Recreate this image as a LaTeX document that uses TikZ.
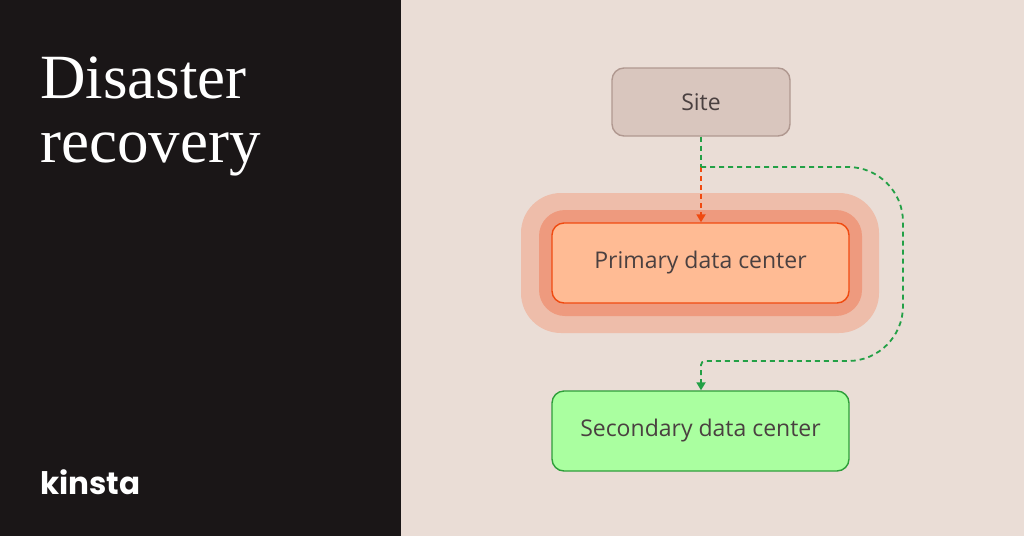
\documentclass[tikz,border=0pt]{standalone}
\usepackage{fontspec}
\setmainfont{Liberation Serif}
\setsansfont{Open Sans}
\newfontfamily\logofont{Poppins}
\usetikzlibrary{positioning,arrows.meta}
\definecolor{darkPanel}{HTML}{1A1617}
\definecolor{lightPanel}{HTML}{EADDD6}
\definecolor{siteFill}{HTML}{D9C6BE}
\definecolor{siteLine}{HTML}{B09890}
\definecolor{primFill}{HTML}{FFBB94}
\definecolor{primLine}{HTML}{F04A10}
\definecolor{haloIn}{HTML}{EE9A7E}
\definecolor{haloOut}{HTML}{EEBDAA}
\definecolor{secFill}{HTML}{AAFFA0}
\definecolor{secLine}{HTML}{2E9E3A}
\definecolor{textGrey}{HTML}{4A4040}
\definecolor{dashGreen}{HTML}{23A046}
\definecolor{dashRed}{HTML}{F04A10}
\begin{document}
\begin{tikzpicture}[x=1pt,y=-1pt,%%
  boxStyle/.style={rounded corners=12pt,line width=1.4pt,minimum height=80pt,
    minimum width=297pt,font=\sffamily\fontsize{23}{26}\selectfont,text=textGrey},%%
  dashStyle/.style={line width=1.8pt,dash pattern=on 5pt off 4pt,
    -{Triangle[length=8pt,width=9pt]}}
]
%%
%% Panels.
\fill[darkPanel] (0,0) rectangle (401,536);
\fill[lightPanel] (401,0) rectangle (1024,536);
\useasboundingbox (0,0) rectangle (1024,536);
%%
%% Title and logo.
\node[anchor=base west,text=white,align=left,inner sep=0pt,
  font=\fontsize{63}{64}\selectfont] (title) at (40,162) {Disaster\\recovery};
\node[anchor=base west,text=white,inner sep=0pt,
  font=\logofont\bfseries\fontsize{31}{32}\selectfont] (logo) at (40,494) {kinsta};
%%
%% Halo behind the primary data center.
\fill[haloOut,rounded corners=40pt] (521,193) rectangle (879,333);
\fill[haloIn,rounded corners=26pt] (539,210) rectangle (862,316);
%%
%% Boxes.
\node[boxStyle,fill=siteFill,draw=siteLine,minimum width=178pt,minimum height=68pt]
  (site) at (701,102) {Site};
\node[boxStyle,fill=primFill,draw=primLine] (primary) at (700.5,263) {Primary data center};
\node[boxStyle,fill=secFill,draw=secLine] (secondary) at (700.5,431) {Secondary data center};
%%
%% Connectors.
\coordinate (split) at (701,167);
\coordinate (back) at (701,361);
\draw[dashStyle,dashRed] (split) -- (primary.north-|split);
\draw[dashStyle,dashGreen,-] (site.south) -- (split);
\draw[dashStyle,dashGreen] (split) [rounded corners=55pt] -- (903,167) -- (903,361)
  [rounded corners=4pt] -- (back) -- (secondary.north-|split);
\end{tikzpicture}
\end{document}
